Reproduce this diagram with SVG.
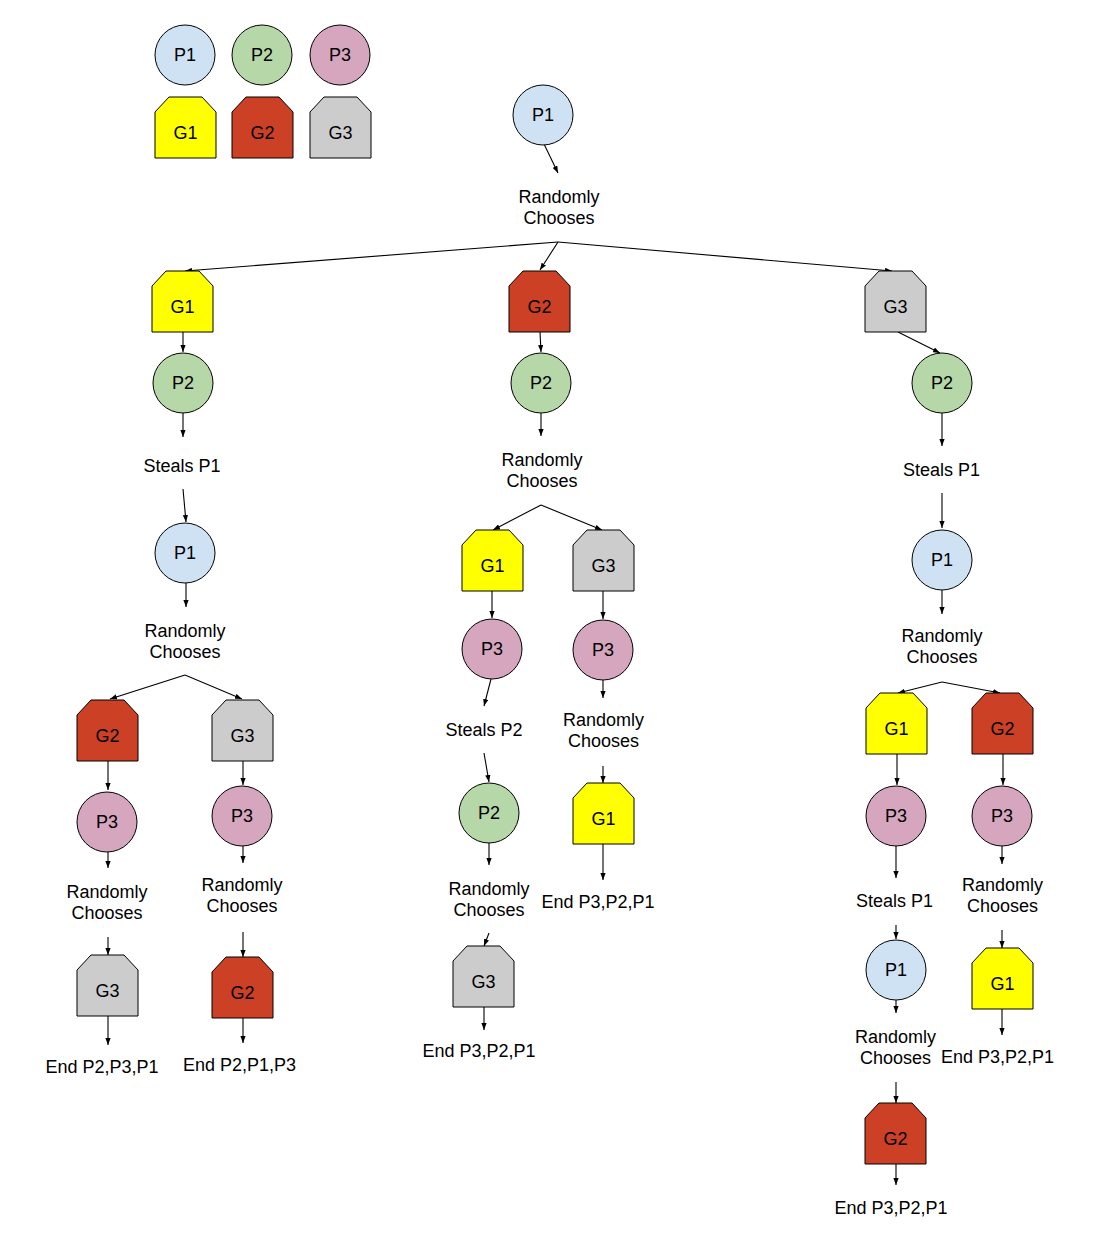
<svg xmlns="http://www.w3.org/2000/svg" width="1103" height="1236" viewBox="0 0 1103 1236">
<style>
text{font-family:"Liberation Sans",Arial,sans-serif;fill:#000;text-anchor:middle}
.n{font-size:18px}
.t{font-size:18px}
.c{stroke:#000;stroke-width:1}
.p1{fill:#cfe2f3}.p2{fill:#b6d7a8}.p3{fill:#d5a6bd}
.g1{fill:#ffff00}.g2{fill:#cc4125}.g3{fill:#cccccc}
.e{stroke:#000;stroke-width:1.1;fill:none;marker-end:url(#a)}
</style>
<defs>
<marker id="a" viewBox="0 0 8 6" refX="8" refY="3" markerWidth="7" markerHeight="5.5" orient="auto" markerUnits="userSpaceOnUse"><path d="M0,0 L8,3 L0,6 Z" fill="#000"/></marker>
<path id="g" d="M0,15 L14,0 L47,0 L61,15 L61,61 L0,61 Z"/>
</defs>
<rect width="1103" height="1236" fill="#fff"/>

<g id="legend">
<g id="lp1"><circle class="c p1" cx="185" cy="55" r="30"/><text class="n" x="185" y="61">P1</text></g>
<g id="lp2"><circle class="c p2" cx="262" cy="55" r="30"/><text class="n" x="262" y="61">P2</text></g>
<g id="lp3"><circle class="c p3" cx="340" cy="55" r="30"/><text class="n" x="340" y="61">P3</text></g>
<g id="lg1"><use href="#g" class="c g1" x="155" y="97"/><text class="n" x="185.5" y="139">G1</text></g>
<g id="lg2"><use href="#g" class="c g2" x="232" y="97"/><text class="n" x="262.5" y="139">G2</text></g>
<g id="lg3"><use href="#g" class="c g3" x="310" y="97"/><text class="n" x="340.5" y="139">G3</text></g>
</g>

<g id="connectors">
<line class="e" x1="544" y1="144" x2="558" y2="173"/>
<line class="e" x1="558" y1="242" x2="185" y2="271"/>
<line class="e" x1="558" y1="242" x2="540" y2="270"/>
<line class="e" x1="558" y1="242" x2="892" y2="271"/>
<line class="e" x1="183" y1="332" x2="183" y2="352"/>
<line class="e" x1="540" y1="332" x2="541" y2="352"/>
<line class="e" x1="898" y1="332" x2="940" y2="353"/>
<line class="e" x1="183" y1="413" x2="183" y2="437"/>
<line class="e" x1="183" y1="489" x2="186" y2="522"/>
<line class="e" x1="186" y1="583" x2="186" y2="607"/>
<line class="e" x1="185" y1="675" x2="110" y2="699"/>
<line class="e" x1="185" y1="675" x2="242" y2="699"/>
<line class="e" x1="108" y1="760" x2="108" y2="790"/>
<line class="e" x1="243" y1="760" x2="243" y2="785"/>
<line class="e" x1="108" y1="852" x2="108" y2="868"/>
<line class="e" x1="243" y1="846" x2="243" y2="863"/>
<line class="e" x1="108" y1="937" x2="108" y2="955"/>
<line class="e" x1="108" y1="1016" x2="108" y2="1045"/>
<line class="e" x1="243" y1="932" x2="243" y2="957"/>
<line class="e" x1="243" y1="1018" x2="243" y2="1043"/>
<line class="e" x1="541" y1="413" x2="541" y2="436"/>
<line class="e" x1="541" y1="505" x2="493" y2="530"/>
<line class="e" x1="541" y1="505" x2="602" y2="530"/>
<line class="e" x1="492" y1="591" x2="492" y2="618"/>
<line class="e" x1="603" y1="591" x2="603" y2="619"/>
<line class="e" x1="491" y1="679" x2="484" y2="706"/>
<line class="e" x1="484" y1="753" x2="489" y2="782"/>
<line class="e" x1="489" y1="843" x2="489" y2="865"/>
<line class="e" x1="489" y1="933" x2="484" y2="946"/>
<line class="e" x1="484" y1="1007" x2="484" y2="1030"/>
<line class="e" x1="603" y1="680" x2="603" y2="698"/>
<line class="e" x1="603" y1="766" x2="603" y2="783"/>
<line class="e" x1="603" y1="844" x2="603" y2="880"/>
<line class="e" x1="942" y1="413" x2="942" y2="446"/>
<line class="e" x1="942" y1="493" x2="942" y2="528"/>
<line class="e" x1="942" y1="590" x2="942" y2="614"/>
<line class="e" x1="942" y1="682" x2="898" y2="693"/>
<line class="e" x1="942" y1="682" x2="1000" y2="693"/>
<line class="e" x1="897" y1="754" x2="897" y2="785"/>
<line class="e" x1="1003" y1="754" x2="1003" y2="785"/>
<line class="e" x1="896" y1="846" x2="896" y2="878"/>
<line class="e" x1="896" y1="925" x2="896" y2="939"/>
<line class="e" x1="896" y1="1000" x2="896" y2="1013"/>
<line class="e" x1="896" y1="1082" x2="896" y2="1103"/>
<line class="e" x1="896" y1="1164" x2="896" y2="1185"/>
<line class="e" x1="1002" y1="846" x2="1002" y2="864"/>
<line class="e" x1="1002" y1="930" x2="1002" y2="948"/>
<line class="e" x1="1002" y1="1009" x2="1002" y2="1035"/>
</g>

<g id="root"><circle class="c p1" cx="543" cy="115" r="30"/><text class="n" x="543" y="121">P1</text></g>
<g id="l_root"><text class="t" x="559" y="203">Randomly</text><text class="t" x="559" y="224">Chooses</text></g>

<g id="a_g1"><use href="#g" class="c g1" x="152" y="271"/><text class="n" x="182.5" y="313">G1</text></g>
<g id="b_g2"><use href="#g" class="c g2" x="509" y="271"/><text class="n" x="539.5" y="313">G2</text></g>
<g id="c_g3"><use href="#g" class="c g3" x="865" y="271"/><text class="n" x="895.5" y="313">G3</text></g>

<g id="a_p2"><circle class="c p2" cx="183" cy="383" r="30"/><text class="n" x="183" y="389">P2</text></g>
<g id="b_p2"><circle class="c p2" cx="541" cy="383" r="30"/><text class="n" x="541" y="389">P2</text></g>
<g id="c_p2"><circle class="c p2" cx="942" cy="383" r="30"/><text class="n" x="942" y="389">P2</text></g>

<!-- left column -->
<g id="a_l1"><text class="t" x="182" y="472">Steals P1</text></g>
<g id="a_p1"><circle class="c p1" cx="185" cy="553" r="30"/><text class="n" x="185" y="559">P1</text></g>
<g id="a_l2"><text class="t" x="185" y="637">Randomly</text><text class="t" x="185" y="658">Chooses</text></g>
<g id="aa_g2"><use href="#g" class="c g2" x="77" y="700"/><text class="n" x="107.5" y="742">G2</text></g>
<g id="ab_g3"><use href="#g" class="c g3" x="212" y="700"/><text class="n" x="242.5" y="742">G3</text></g>
<g id="aa_p3"><circle class="c p3" cx="107" cy="822" r="30"/><text class="n" x="107" y="828">P3</text></g>
<g id="ab_p3"><circle class="c p3" cx="242" cy="816" r="30"/><text class="n" x="242" y="822">P3</text></g>
<g id="aa_l"><text class="t" x="107" y="898">Randomly</text><text class="t" x="107" y="919">Chooses</text></g>
<g id="ab_l"><text class="t" x="242" y="891">Randomly</text><text class="t" x="242" y="912">Chooses</text></g>
<g id="aa_g3"><use href="#g" class="c g3" x="77" y="955"/><text class="n" x="107.5" y="997">G3</text></g>
<g id="ab_g2"><use href="#g" class="c g2" x="212" y="957"/><text class="n" x="242.5" y="999">G2</text></g>
<g id="aa_end"><text class="t" x="102" y="1073">End P2,P3,P1</text></g>
<g id="ab_end"><text class="t" x="239.5" y="1071">End P2,P1,P3</text></g>

<!-- middle column -->
<g id="b_l1"><text class="t" x="542" y="466">Randomly</text><text class="t" x="542" y="487">Chooses</text></g>
<g id="ba_g1"><use href="#g" class="c g1" x="462" y="530"/><text class="n" x="492.5" y="572">G1</text></g>
<g id="bb_g3"><use href="#g" class="c g3" x="573" y="530"/><text class="n" x="603.5" y="572">G3</text></g>
<g id="ba_p3"><circle class="c p3" cx="492" cy="649" r="30"/><text class="n" x="492" y="655">P3</text></g>
<g id="bb_p3"><circle class="c p3" cx="603" cy="650" r="30"/><text class="n" x="603" y="656">P3</text></g>
<g id="ba_l1"><text class="t" x="484" y="736">Steals P2</text></g>
<g id="ba_p2"><circle class="c p2" cx="489" cy="813" r="30"/><text class="n" x="489" y="819">P2</text></g>
<g id="ba_l2"><text class="t" x="489" y="895">Randomly</text><text class="t" x="489" y="916">Chooses</text></g>
<g id="ba_g3"><use href="#g" class="c g3" x="453" y="946"/><text class="n" x="483.5" y="988">G3</text></g>
<g id="ba_end"><text class="t" x="479" y="1057">End P3,P2,P1</text></g>
<g id="bb_l"><text class="t" x="603.5" y="726">Randomly</text><text class="t" x="603.5" y="747">Chooses</text></g>
<g id="bb_g1"><use href="#g" class="c g1" x="573" y="783"/><text class="n" x="603.5" y="825">G1</text></g>
<g id="bb_end"><text class="t" x="598" y="908">End P3,P2,P1</text></g>

<!-- right column -->
<g id="c_l1"><text class="t" x="941.5" y="476">Steals P1</text></g>
<g id="c_p1"><circle class="c p1" cx="942" cy="560" r="30"/><text class="n" x="942" y="566">P1</text></g>
<g id="c_l2"><text class="t" x="942" y="642">Randomly</text><text class="t" x="942" y="663">Chooses</text></g>
<g id="ca_g1"><use href="#g" class="c g1" x="866" y="693"/><text class="n" x="896.5" y="735">G1</text></g>
<g id="cb_g2"><use href="#g" class="c g2" x="972" y="693"/><text class="n" x="1002.5" y="735">G2</text></g>
<g id="ca_p3"><circle class="c p3" cx="896" cy="816" r="30"/><text class="n" x="896" y="822">P3</text></g>
<g id="cb_p3"><circle class="c p3" cx="1002" cy="816" r="30"/><text class="n" x="1002" y="822">P3</text></g>
<g id="ca_l1"><text class="t" x="894.5" y="907">Steals P1</text></g>
<g id="ca_p1"><circle class="c p1" cx="896" cy="970" r="30"/><text class="n" x="896" y="976">P1</text></g>
<g id="ca_l2"><text class="t" x="895.5" y="1043">Randomly</text><text class="t" x="895.5" y="1064">Chooses</text></g>
<g id="ca_g2"><use href="#g" class="c g2" x="865" y="1103"/><text class="n" x="895.5" y="1145">G2</text></g>
<g id="ca_end"><text class="t" x="891" y="1214">End P3,P2,P1</text></g>
<g id="cb_l"><text class="t" x="1002.5" y="891">Randomly</text><text class="t" x="1002.5" y="912">Chooses</text></g>
<g id="cb_g1"><use href="#g" class="c g1" x="972" y="948"/><text class="n" x="1002.5" y="990">G1</text></g>
<g id="cb_end"><text class="t" x="997.5" y="1063">End P3,P2,P1</text></g>
</svg>
